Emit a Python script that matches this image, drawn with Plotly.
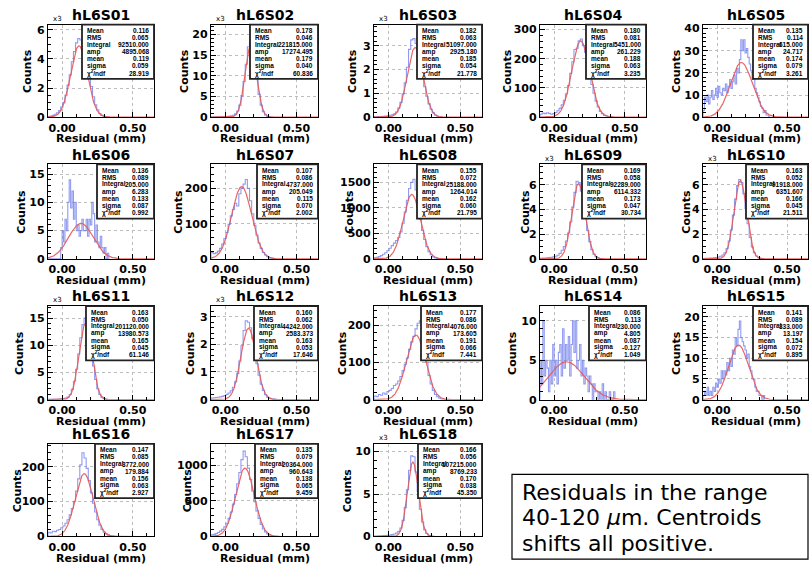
import numpy as np
import plotly.graph_objects as go

W, H = 810, 574

names = ["hL6S01", "hL6S02", "hL6S03", "hL6S04", "hL6S05", "hL6S06", "hL6S07", "hL6S08", "hL6S09",
         "hL6S10", "hL6S11", "hL6S12", "hL6S13", "hL6S14", "hL6S15", "hL6S16", "hL6S17", "hL6S18"]

# histogram heights (as shown on each panel's axis), first bin starts at -0.1 mm
h01 = [0.05, 0.08, 0.12, 0.2, 0.3, 0.45, 0.7, 1.0, 1.5, 2.2, 2.9, 3.8, 4.5, 5.1, 5.4, 5.3, 5.0, 4.4, 3.7, 2.9,
       2.1, 1.4, 0.85, 0.5, 0.25, 0.12, 0.06, 0.03, 0.01]
h02 = [0.05, 0.05, 0.06, 0.07, 0.08, 0.1, 0.12, 0.15, 0.2, 0.3, 0.45, 0.8, 1.5, 2.9, 5.2, 8.6, 12.8, 17.0, 19.2,
       17.5, 13.6, 9.3, 5.5, 2.9, 1.3, 0.55, 0.2, 0.08, 0.03]
h03 = [0.02, 0.02, 0.03, 0.03, 0.04, 0.05, 0.06, 0.08, 0.1, 0.14, 0.22, 0.38, 0.62, 0.98, 1.45, 2.1, 2.85, 3.25,
       3.3, 3.1, 2.75, 2.25, 1.75, 1.28, 0.88, 0.56, 0.33, 0.18, 0.09, 0.04, 0.02]
h04 = [10, 14, 12, 15, 13, 10, 12, 16, 22, 30, 42, 58, 80, 108, 150, 190, 232, 236, 262, 268, 245, 222, 188, 150,
       112, 82, 55, 35, 20, 12, 6, 4, 2, 1]
h05 = [3, 9, 7, 10, 6, 9, 12, 8, 10, 13, 9, 14, 11, 10, 13, 12, 15, 11, 14, 17, 13, 16, 19, 15, 22, 20, 26, 35,
       30, 35, 29, 31, 27, 24, 21, 17, 19, 13, 11, 9, 7, 5, 4, 2, 3, 1, 1, 0]
h06 = [0, 0, 0, 0, 0, 0, 0, 0, 0, 2, 5, 3, 7, 5, 10, 14, 9, 12, 7, 10, 5, 6, 4, 5, 7, 5, 5, 7, 4, 7, 6, 10, 8, 3,
       6, 3, 2, 4, 2, 1, 2, 0, 1]
h07 = [18, 15, 17, 22, 30, 42, 58, 75, 98, 122, 140, 158, 150, 185, 200, 212, 225, 200, 165, 128, 95, 68, 45, 30,
       18, 11, 6, 3, 2, 1]
h08 = [20, 30, 45, 65, 90, 120, 160, 210, 260, 310, 360, 420, 530, 700, 920, 1150, 1380, 1500, 1560, 1350, 1050,
       780, 560, 380, 240, 140, 80, 40, 20, 10, 5]
h09 = [0.05, 0.06, 0.07, 0.08, 0.1, 0.13, 0.17, 0.22, 0.3, 0.45, 0.7, 1.0, 1.45, 2.1, 3.0, 4.2, 5.4, 6.3, 6.2, 5.5,
       4.5, 3.4, 2.3, 1.4, 0.75, 0.38, 0.17, 0.07, 0.03]
h10 = [0.03, 0.04, 0.05, 0.06, 0.07, 0.09, 0.12, 0.16, 0.22, 0.32, 0.5, 0.85, 1.45, 2.35, 3.55, 4.85, 5.95, 6.45,
       6.2, 5.3, 4.1, 2.85, 1.75, 0.98, 0.5, 0.23, 0.1, 0.04, 0.02]
h11 = [0.05, 0.05, 0.06, 0.07, 0.09, 0.11, 0.15, 0.2, 0.3, 0.5, 0.95, 1.9, 3.4, 5.6, 8.4, 11.4, 13.8, 15.0, 14.4,
       12.2, 9.2, 6.2, 3.7, 2.0, 0.95, 0.42, 0.17, 0.07]
h12 = [0.06, 0.07, 0.08, 0.09, 0.1, 0.12, 0.15, 0.19, 0.24, 0.32, 0.45, 0.65, 0.95, 1.4, 1.95, 2.5, 2.85, 2.8, 2.6,
       2.2, 1.75, 1.3, 0.88, 0.56, 0.33, 0.18, 0.09, 0.05, 0.03, 0.02]
h13 = [10, 8, 14, 12, 18, 15, 22, 25, 30, 38, 42, 50, 62, 78, 95, 112, 135, 155, 170, 190, 205, 212, 180, 140, 100,
       65, 42, 25, 14, 8, 4, 2, 1]
h14 = [5, 2, 10, 3, 5, 4, 1, 5, 2, 7, 3, 5, 2, 6, 7, 3, 9, 4, 7, 5, 8, 3, 7, 10, 6, 10, 4, 5, 7, 3, 5, 2, 4, 3, 1,
       3, 2, 0, 2, 1, 1, 0, 1, 0, 2, 0, 1, 0, 0, 1, 0, 0, 1]
h15 = [1, 2, 1, 3, 1, 2, 1, 3, 2, 4, 3, 5, 4, 7, 5, 7, 6, 9, 7, 10, 8, 12, 11, 15, 13, 17, 19, 15, 14, 13, 12, 10,
       11, 8, 7, 5, 5, 3, 2, 2, 1, 1, 0, 1]
h16 = [12, 10, 15, 14, 18, 20, 25, 30, 38, 48, 62, 80, 100, 130, 165, 205, 240, 225, 195, 160, 125, 95, 70, 48, 32,
       20, 12, 7, 4, 2, 1]
h17 = [25, 30, 40, 55, 75, 100, 135, 185, 255, 345, 455, 590, 740, 900, 1080, 1200, 1120, 960, 800, 640, 490, 360,
       255, 170, 105, 62, 35, 18, 9, 4]
h18 = [0.05, 0.06, 0.07, 0.08, 0.1, 0.12, 0.15, 0.18, 0.22, 0.3, 0.4, 0.6, 1.0, 1.9, 3.4, 5.5, 7.8, 9.5, 9.4, 7.6,
       5.3, 3.2, 1.7, 0.8, 0.35, 0.15, 0.06, 0.03]
hists = [h01, h02, h03, h04, h05, h06, h07, h08, h09, h10, h11, h12, h13, h14, h15, h16, h17, h18]
bin_width = [0.015, 0.015, 0.015, 0.015, 0.01, 0.01, 0.015, 0.015, 0.015,
             0.015, 0.015, 0.015, 0.015, 0.01, 0.01, 0.015, 0.015, 0.015]

# statistics box contents
stat_mean = [0.116, 0.178, 0.182, 0.180, 0.135, 0.136, 0.107, 0.155, 0.169,
             0.163, 0.163, 0.160, 0.177, 0.086, 0.141, 0.147, 0.135, 0.166]
stat_rms = [0.065, 0.046, 0.063, 0.081, 0.114, 0.089, 0.086, 0.072, 0.058,
            0.052, 0.050, 0.062, 0.086, 0.113, 0.089, 0.085, 0.079, 0.056]
stat_integral = [92510, 221815, 51097, 5451, 615, 205, 4737, 25188, 92289,
                 91918, 201120, 44242, 4076, 230, 333, 3772, 20364, 107215]
fit_amp = [4895.068, 17274.495, 2925.180, 261.229, 24.717, 6.283, 205.049, 1264.014, 6114.332,
           6351.607, 13980.573, 2583.373, 173.605, 4.805, 13.197, 179.884, 960.643, 8769.233]
fit_mean = [0.119, 0.179, 0.185, 0.188, 0.174, 0.133, 0.115, 0.162, 0.173,
            0.166, 0.165, 0.163, 0.191, 0.087, 0.154, 0.156, 0.138, 0.170]
fit_sigma = [0.059, 0.040, 0.054, 0.063, 0.079, 0.087, 0.070, 0.060, 0.047,
             0.045, 0.045, 0.053, 0.066, -0.127, 0.072, 0.063, 0.065, 0.038]
fit_chi2 = [28.919, 60.836, 21.778, 3.235, 3.261, 0.992, 2.002, 21.795, 30.734,
            21.511, 61.146, 17.646, 7.441, 1.049, 0.895, 2.927, 9.459, 45.350]
thousands = [True, True, True, False, False, False, False, False, True,
             True, True, True, False, False, False, False, False, True]

y_max = [6.35, 22.35, 3.89, 317, 41.8, 16.7, 268, 1852, 7.67,
         7.67, 17.2, 3.38, 251, 11.86, 22.6, 265, 1300, 10.9]
y_dtick = [2, 5, 1, 100, 10, 5, 100, 500, 2, 2, 5, 1, 100, 5, 5, 100, 500, 5]

x_ticks = [0.0, 0.5]
x_ticktext = ["0.00", "0.50"]
note_lines = ["Residuals in the range", "40-120 <i>μ</i>m. Centroids", "shifts all positive."]

# ---------------- layout geometry (pixels) ----------------
col_left = [48, 211, 374, 540, 703]
col_right = [154, 318, 482, 646, 808]
row_top = [23, 165, 309, 449]
row_bot = [117, 261, 404, 543]
box_left = [82, 250, 417, 586, 753, 97, 257, 417, 582, 746, 86, 254, 421, 589, 753, 95, 255, 418]
counts_off = [20, 26, 21, 32, 26, 26, 32, 24, 14, 16, 28, 20, 31, 27, 26, 31, 24, 27]


def px(x):
    return x / W


def py(y):
    return 1 - y / H


BOLD = "DejaVu Sans"
STATF = "Liberation Sans"
HIST_C = "rgba(105,120,235,0.75)"
FIT_C = "rgba(232,85,85,0.9)"

fig = go.Figure()
annotations = []
shapes = []

for i in range(18):
    n = i + 1
    r, c = divmod(i, 5)
    xl, xr = col_left[c], col_right[c]
    yt, yb = row_top[r], row_bot[r]
    xs = "x" if n == 1 else f"x{n}"
    ys = "y" if n == 1 else f"y{n}"
    sc = 1000.0 if thousands[i] else 1.0

    vals = hists[i]
    bw = bin_width[i]
    edges = [-0.1 + k * bw for k in range(len(vals) + 1)]
    fig.add_trace(go.Scatter(x=[edges[0]] + edges, y=[0] + list(vals) + [0], mode="lines",
                             line=dict(color=HIST_C, width=1.1, shape="hv"),
                             xaxis=xs, yaxis=ys, showlegend=False, hoverinfo="skip"))
    xf = np.linspace(-0.1, 0.65, 400)
    yf = fit_amp[i] * np.exp(-0.5 * ((xf - fit_mean[i]) / fit_sigma[i]) ** 2) / sc
    fig.add_trace(go.Scatter(x=xf, y=yf, mode="lines", line=dict(color=FIT_C, width=1.2),
                             xaxis=xs, yaxis=ys, showlegend=False, hoverinfo="skip"))

    fig.layout[f"xaxis{'' if n == 1 else n}"] = dict(
        domain=[px(xl), px(xr)], anchor=ys, range=[-0.1, 0.65],
        tickvals=x_ticks, ticktext=x_ticktext, ticks="inside", ticklen=5, tickcolor="black",
        showline=True, mirror=True, linecolor="black", linewidth=1.3,
        showgrid=True, gridcolor="#bdbdbd", griddash="dot", gridwidth=1, zeroline=False,
        tickfont=dict(family=BOLD, size=11, color="black", weight="bold"),
        minor=dict(dtick=0.1, tick0=0, ticks="inside", ticklen=3, tickcolor="black", showgrid=False),
        fixedrange=True)
    fig.layout[f"yaxis{'' if n == 1 else n}"] = dict(
        domain=[py(yb), py(yt)], anchor=xs, range=[0, y_max[i]],
        tick0=0, dtick=y_dtick[i], ticks="inside", ticklen=5, tickcolor="black",
        showline=True, mirror=True, linecolor="black", linewidth=1.3,
        showgrid=True, gridcolor="#bdbdbd", griddash="dot", gridwidth=1, zeroline=False,
        tickfont=dict(family=BOLD, size=11, color="black", weight="bold"),
        minor=dict(nticks=5, ticks="inside", ticklen=3, tickcolor="black", showgrid=False),
        fixedrange=True)

    # title
    annotations.append(dict(x=px((xl + xr) / 2), y=py(yt - 10), xref="paper", yref="paper",
                            text=names[i], showarrow=False, xanchor="center", yanchor="middle",
                            font=dict(family=BOLD, size=14, color="black", weight="bold")))
    # axis titles
    annotations.append(dict(x=px(xl - counts_off[i]), y=py((yt + yb) / 2), xref="paper", yref="paper",
                            text="Counts", showarrow=False, textangle=-90, xanchor="center",
                            yanchor="middle", font=dict(family=BOLD, size=11, color="black", weight="bold")))
    annotations.append(dict(x=px((xl + xr) / 2), y=py(yb + 22), xref="paper", yref="paper",
                            text="Residual (mm)", showarrow=False, xanchor="center", yanchor="middle",
                            font=dict(family=BOLD, size=11, color="black", weight="bold")))
    if thousands[i]:
        annotations.append(dict(x=px(xl + 3), y=py(yt - 6), xref="paper", yref="paper",
                                text="x3", showarrow=False, xanchor="left", yanchor="middle",
                                font=dict(family=BOLD, size=7, color="black")))

    # statistics box
    bl, br = box_left[i], xr
    bt, bb = yt, yt + 55
    shapes.append(dict(type="rect", xref="paper", yref="paper", x0=px(bl), x1=px(br),
                       y0=py(bb), y1=py(bt), fillcolor="white", line=dict(color="#222222", width=1.8),
                       layer="above"))
    labels = ["Mean", "RMS", "Integral", "amp", "mean", "sigma", "χ<sup>2</sup>/ndf"]
    values = [stat_mean[i], stat_rms[i], stat_integral[i], fit_amp[i], fit_mean[i], fit_sigma[i], fit_chi2[i]]
    for k in range(7):
        yy = bt + 6 + k * 7.2
        annotations.append(dict(x=px(bl + 3), y=py(yy), xref="paper", yref="paper", text=labels[k],
                                showarrow=False, xanchor="left", yanchor="middle",
                                font=dict(family=STATF, size=6.5, color="black", weight="bold")))
        annotations.append(dict(x=px(br - 3), y=py(yy), xref="paper", yref="paper",
                                text=f"{values[k]:.3f}", showarrow=False, xanchor="right", yanchor="middle",
                                font=dict(family=STATF, size=6.5, color="black", weight="bold")))

# note box
shapes.append(dict(type="rect", xref="paper", yref="paper", x0=px(512), x1=px(808), y0=py(566), y1=py(480),
                   fillcolor="white", line=dict(color="black", width=1.2), layer="above"))
for k, t in enumerate(note_lines):
    annotations.append(dict(x=px(520), y=py(498 + k * 26), xref="paper", yref="paper", text=t,
                            showarrow=False, xanchor="left", yanchor="middle",
                            font=dict(family="DejaVu Sans", size=22, color="black")))

fig.update_layout(width=W, height=H, margin=dict(l=0, r=0, t=0, b=0),
                  paper_bgcolor="white", plot_bgcolor="white",
                  annotations=annotations, shapes=shapes, showlegend=False)

fig.write_html("out.html", config={"displayModeBar": False},
               post_script="document.body.style.margin='0px';document.body.style.overflow='hidden';")
